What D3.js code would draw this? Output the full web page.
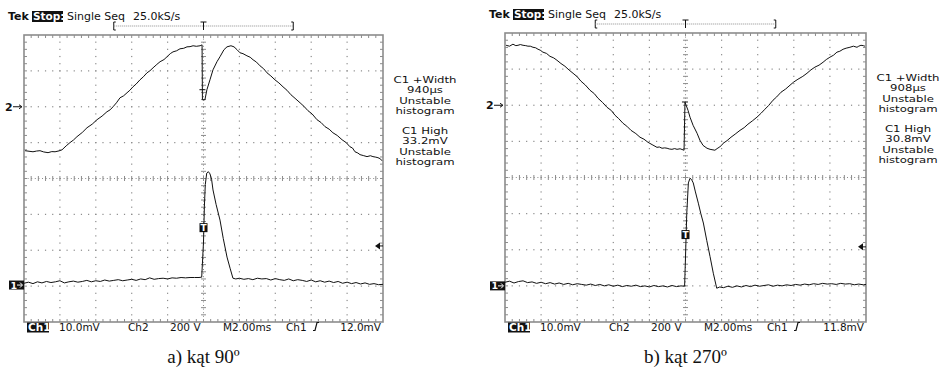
<!DOCTYPE html>
<html><head><meta charset="utf-8">
<script src="https://cdn.jsdelivr.net/npm/d3@7"></script>
<style>
body{margin:0;background:#fff}
svg{display:block}
text{font-family:"DejaVu Sans",sans-serif}
</style></head><body>
<svg id="c" width="942" height="379"></svg>
<script>
// ---------- data ----------
const timeDomain = [-10, 10];      // ms (2.00 ms/div)
const divDomain = [-4, 4];         // vertical divisions
const ch1PerDiv = 10;              // mV/div
const ch2PerDiv = 200;             // V/div
const triggerWindow = [-5, 5];     // ms, record bracket at top

const titleLabels = ["Tek", "Stop:", "Single Seq", "25.0kS/s"];
const bottomLabelsA = ["Ch1", "10.0mV", "Ch2", "200 V", "M2.00ms", "Ch1", "12.0mV"];
const bottomLabelsB = ["Ch1", "10.0mV", "Ch2", "200 V", "M2.00ms", "Ch1", "11.8mV"];
const sideLabelsA = [["C1 +Width", "940µs", "Unstable", "histogram"], ["C1 High", "33.2mV", "Unstable", "histogram"]];
const sideLabelsB = [["C1 +Width", "908µs", "Unstable", "histogram"], ["C1 High", "30.8mV", "Unstable", "histogram"]];
const captions = ["a) kąt 90º", "b) kąt 270º"];

// trigger level (mV) and trigger-marker level (mV) per screen
const trigLevel = [10.9, 10.8];
const trigMark = [16.0, 14.2];

// Ch1 [t ms, mV] — screen a (90°)
const ch1A = [[-10,0.5],[-9.75,0.8],[-9.5,0.4],[-9.25,0.9],[-9,0.6],[-8.75,1.0],[-8.5,0.7],[-8.25,0.9],[-8,1.2],[-7.75,0.6],[-7.5,0.9],[-7.25,1.1],[-7,0.8],[-6.75,1.0],[-6.5,1.3],[-6.25,0.9],[-6,1.2],[-5.75,1.0],[-5.5,1.4],[-5.25,1.1],[-5,1.3],[-4.75,1.5],[-4.5,1.2],[-4.25,1.4],[-4,1.6],[-3.75,1.3],[-3.5,1.7],[-3.25,1.5],[-3,2.0],[-2.75,1.6],[-2.5,1.8],[-2.25,1.9],[-2,1.7],[-1.75,2.0],[-1.5,1.9],[-1.25,2.1],[-1,2.0],[-0.75,2.1],[-0.5,2.1],[-0.25,2.1],[-0.1,2.2],
[0,12],[0.05,22],[0.1,28],[0.18,31.2],[0.27,31.6],[0.36,31.0],[0.45,29.5],[0.53,26.5],[0.7,22.5],[0.92,18.1],[1.1,13],[1.31,7.8],[1.48,4.7],[1.64,1.9],[1.8,1.7],
[2,1.9],[2.25,1.6],[2.5,1.8],[2.75,1.5],[3,1.9],[3.25,1.7],[3.5,1.8],[3.75,1.4],[4,1.8],[4.25,1.5],[4.5,1.3],[4.75,1.7],[5,1.2],[5.25,1.5],[5.5,1.3],[5.75,1.0],[6,1.4],[6.25,0.9],[6.5,1.2],[6.75,0.8],[7,1.1],[7.25,0.7],[7.5,1.0],[7.75,0.5],[8,0.8],[8.25,0.4],[8.5,0.7],[8.75,0.3],[9,0.6],[9.25,0.2],[9.5,0.4],[9.75,0.1],[10,0.2]];

// Ch2 [t ms, V] — screen a
const ch2A = [[-9.94,-245],[-9.72,-248],[-9.5,-251],[-9.3,-247],[-9.11,-245],[-8.9,-252],[-8.66,-256],[-8.45,-250],[-8.27,-251],[-8.05,-246],[-7.88,-240],[-7.65,-218],[-7.44,-200],[-7.25,-186],[-7.05,-167],[-6.75,-143],[-6.49,-117],[-6.2,-97],[-5.93,-72],[-5.65,-52],[-5.38,-28],[-5.2,-17],[-5.04,0],[-4.85,22],[-4.65,50],[-4.45,61],[-4.26,78],[-4.1,92],[-3.93,111],[-3.75,127],[-3.54,150],[-3.35,167],[-3.15,189],[-2.98,201],[-2.81,217],[-2.6,236],[-2.42,251],[-2.2,263],[-2.03,279],[-1.85,296],[-1.7,306],[-1.5,312],[-1.31,323],[-1.1,326],[-0.92,334],[-0.75,335],[-0.58,340],[-0.4,337],[-0.19,340],[-0.08,345],[-0.06,39],[0.08,39],[0.19,95],[0.36,150],[0.53,206],[0.75,251],[0.92,279],[1.14,318],[1.31,334],[1.53,340],[1.7,334],[1.87,318],[2.03,301],[2.2,296],[2.42,284],[2.6,276],[2.76,262],[2.95,249],[3.15,228],[3.35,212],[3.54,189],[3.75,172],[3.98,150],[4.2,133],[4.43,111],[4.65,92],[4.87,67],[5.1,47],[5.38,22],[5.6,2],[5.82,-22],[6.05,-40],[6.32,-72],[6.55,-88],[6.77,-111],[7,-125],[7.21,-145],[7.45,-160],[7.72,-184],[7.95,-200],[8.16,-223],[8.3,-230],[8.44,-251],[8.6,-258],[8.72,-267],[8.9,-272],[9.11,-278],[9.3,-273],[9.44,-278],[9.6,-281],[9.72,-284],[9.85,-290],[9.94,-301]];
const ch2CursorA = [[-0.06, 95]];

// Ch1 [t ms, mV] — screen b (270°)
const ch1B = [[-10,1.0],[-9.75,1.3],[-9.5,0.8],[-9.25,1.2],[-9,1.4],[-8.75,0.9],[-8.5,1.1],[-8.25,0.7],[-8,1.0],[-7.75,0.6],[-7.5,0.9],[-7.25,0.5],[-7,0.8],[-6.75,0.4],[-6.5,0.7],[-6.25,0.3],[-6,0.6],[-5.75,0.4],[-5.5,0.2],[-5.25,0.5],[-5,0.1],[-4.75,0.4],[-4.5,0.0],[-4.25,0.3],[-4,-0.1],[-3.75,0.2],[-3.5,-0.2],[-3.25,0.1],[-3,-0.1],[-2.75,0.2],[-2.5,-0.2],[-2.25,0.0],[-2,-0.3],[-1.75,0.1],[-1.5,-0.2],[-1.25,0.0],[-1,-0.3],[-0.75,0.1],[-0.5,-0.2],[-0.25,0.0],[-0.05,-0.1],
[0,8],[0.07,20],[0.16,28.5],[0.25,29.8],[0.34,29.4],[0.43,28.5],[0.55,26],[0.71,22.9],[0.85,20],[0.99,17.4],[1.18,12.5],[1.36,8.1],[1.54,3.5],[1.73,-0.65],
[1.9,-0.3],[2.1,-0.5],[2.35,-0.1],[2.6,-0.4],[2.85,0.0],[3.1,-0.3],[3.35,0.1],[3.6,-0.2],[3.85,0.2],[4.1,-0.1],[4.35,0.1],[4.6,0.3],[4.85,-0.1],[5.1,0.2],[5.35,0.0],[5.6,0.3],[5.85,0.1],[6.1,0.4],[6.35,0.2],[6.6,0.5],[6.85,0.3],[7.1,0.6],[7.35,0.4],[7.6,0.7],[7.85,0.5],[8.1,0.6],[8.35,0.4],[8.6,0.7],[8.85,0.5],[9.1,0.6],[9.35,0.3],[9.6,0.5],[9.85,0.3],[10,0.4]];

// Ch2 [t ms, V] — screen b
const ch2B = [[-9.94,332],[-9.75,327],[-9.56,338],[-9.4,330],[-9.28,332],[-9.15,336],[-9,332],[-8.85,330],[-8.73,327],[-8.6,327],[-8.45,321],[-8.3,318],[-8.17,310],[-8.05,305],[-7.9,294],[-7.7,287],[-7.51,271],[-7.3,262],[-7.12,249],[-6.9,231],[-6.68,216],[-6.45,195],[-6.23,177],[-6,158],[-5.79,133],[-5.55,112],[-5.29,83],[-5.05,64],[-4.85,39],[-4.6,16],[-4.35,-11],[-4.1,-30],[-3.91,-55],[-3.7,-74],[-3.46,-100],[-3.25,-116],[-3.02,-139],[-2.75,-157],[-2.52,-177],[-2.3,-188],[-2.08,-205],[-1.85,-218],[-1.58,-233],[-1.45,-231],[-1.3,-238],[-1.15,-236],[-1.02,-238],[-0.9,-242],[-0.75,-244],[-0.6,-240],[-0.47,-244],[-0.3,-241],[-0.08,-249],[-0.03,17],[0.14,-28],[0.25,-66],[0.42,-111],[0.64,-155],[0.8,-194],[0.97,-222],[1.19,-238],[1.36,-244],[1.63,-249],[1.75,-240],[1.86,-233],[2,-222],[2.08,-211],[2.3,-196],[2.52,-177],[2.75,-160],[3.02,-139],[3.25,-124],[3.46,-105],[3.7,-87],[3.96,-66],[4.2,-43],[4.4,-22],[4.6,-2],[4.85,28],[5.05,46],[5.29,72],[5.55,90],[5.79,111],[6,129],[6.23,144],[6.5,160],[6.73,177],[6.95,196],[7.17,211],[7.4,222],[7.62,238],[7.8,253],[8,266],[8.2,277],[8.39,294],[8.55,299],[8.73,310],[8.9,316],[9.11,321],[9.3,327],[9.5,321],[9.6,327],[9.72,332],[9.85,330],[9.94,327]];
const ch2CursorB = [[-0.03, 18]];

// ---------- layout ----------
const screens = [
  {x0:24, x1:383, y0:35, y1:322, ch1Off:-2.97, ch2Off:2, ch1:ch1A, ch2:ch2A, cur:ch2CursorA, bottom:bottomLabelsA, side:sideLabelsA, cap:captions[0], trig:trigLevel[0], tmark:trigMark[0]},
  {x0:505, x1:866, y0:33, y1:322, ch1Off:-3.0, ch2Off:2, ch1:ch1B, ch2:ch2B, cur:ch2CursorB, bottom:bottomLabelsB, side:sideLabelsB, cap:captions[1], trig:trigLevel[1], tmark:trigMark[1]}
];

const svg = d3.select("#c");
const grid = "#8c8c8c";
const ink = "#111";

screens.forEach(s => {
  const g = svg.append("g");
  const x = d3.scaleLinear().domain(timeDomain).range([s.x0, s.x1]);
  const y = d3.scaleLinear().domain(divDomain).range([s.y1, s.y0]);
  const y1 = v => y(v / ch1PerDiv + s.ch1Off);
  const y2 = v => y(v / ch2PerDiv + s.ch2Off);

  const xMinor = d3.range(0, 51).map(i => timeDomain[0] + i * 0.4);
  const yMinor = d3.range(0, 41).map(i => divDomain[0] + i * 0.2);
  const xMajor = [-8, -6, -4, -2, 2, 4, 6, 8];
  const yMajor = [-3, -2, -1, 1, 2, 3];

  // dotted grid lines
  const dots = [];
  xMajor.forEach(t => yMinor.slice(1, -1).forEach(v => dots.push([x(t), y(v)])));
  yMajor.forEach(v => xMinor.slice(1, -1).forEach(t => dots.push([x(t), y(v)])));
  g.selectAll(null).data(dots).enter().append("rect")
    .attr("x", d => d[0] - 0.6).attr("y", d => d[1] - 0.6)
    .attr("width", 1.2).attr("height", 1.2).attr("fill", grid);

  // centre lines with ticks + border ticks
  const ticks = [];
  xMinor.slice(1, -1).forEach(t => ticks.push([x(t), y(0) - 2.5, x(t), y(0) + 2.5]));
  yMinor.slice(1, -1).forEach(v => ticks.push([x(0) - 2.5, y(v), x(0) + 2.5, y(v)]));
  xMinor.slice(1, -1).forEach(t => { ticks.push([x(t), s.y0, x(t), s.y0 + 3]); ticks.push([x(t), s.y1, x(t), s.y1 - 3]); });
  yMinor.slice(1, -1).forEach(v => { ticks.push([s.x0, y(v), s.x0 + 3, y(v)]); ticks.push([s.x1, y(v), s.x1 - 3, y(v)]); });
  g.selectAll(null).data(ticks).enter().append("line")
    .attr("x1", d => d[0]).attr("y1", d => d[1]).attr("x2", d => d[2]).attr("y2", d => d[3])
    .attr("stroke", grid).attr("stroke-width", 1);
  g.append("line").attr("x1", s.x0).attr("x2", s.x1).attr("y1", y(0)).attr("y2", y(0))
    .attr("stroke", grid).attr("stroke-dasharray", "1,2.6");
  g.append("line").attr("x1", x(0)).attr("x2", x(0)).attr("y1", s.y0).attr("y2", s.y1)
    .attr("stroke", grid).attr("stroke-dasharray", "1,2.6");

  g.append("rect").attr("x", s.x0).attr("y", s.y0).attr("width", s.x1 - s.x0).attr("height", s.y1 - s.y0)
    .attr("fill", "none").attr("stroke", grid).attr("stroke-width", 1.6);

  // traces
  const l1 = d3.line().x(d => x(d[0])).y(d => y1(d[1]));
  const l2 = d3.line().x(d => x(d[0])).y(d => y2(d[1]));
  g.append("path").attr("d", l2(s.ch2)).attr("fill", "none").attr("stroke", ink).attr("stroke-width", 1);
  g.append("path").attr("d", l1(s.ch1)).attr("fill", "none").attr("stroke", ink).attr("stroke-width", 1);
  g.selectAll(null).data(s.cur).enter().append("line")
    .attr("x1", d => x(d[0]) - 3).attr("x2", d => x(d[0]) + 3)
    .attr("y1", d => y2(d[1])).attr("y2", d => y2(d[1])).attr("stroke", ink);

  // title
  const ty = s.y0 - 15;
  g.append("text").attr("x", s.x0 - 16).attr("y", ty).attr("font-size", 11).attr("font-weight", "bold").attr("fill", ink).text(titleLabels[0]);
  g.append("rect").attr("x", s.x0 + 8).attr("y", ty - 9).attr("width", 31).attr("height", 11).attr("fill", ink);
  g.append("text").attr("x", s.x0 + 9).attr("y", ty).attr("font-size", 10.5).attr("font-weight", "bold").attr("fill", "#fff").text(titleLabels[1]);
  g.append("text").attr("x", s.x0 + 43).attr("y", ty).attr("font-size", 11).attr("fill", ink).text(titleLabels[2]);
  g.append("text").attr("x", s.x0 + 109).attr("y", ty).attr("font-size", 11).attr("fill", ink).text(titleLabels[3]);

  // record / trigger position bracket
  const by = s.y0 - 9;
  const bl = x(triggerWindow[0]), br = x(triggerWindow[1]);
  g.append("path").attr("d", `M${bl + 2},${by - 4}H${bl}V${by + 4}H${bl + 2}M${br - 2},${by - 4}H${br}V${by + 4}H${br - 2}`)
    .attr("fill", "none").attr("stroke", ink);
  g.append("line").attr("x1", bl).attr("x2", br).attr("y1", by).attr("y2", by)
    .attr("stroke", grid).attr("stroke-dasharray", "1,1");
  g.append("path").attr("d", `M${x(0) - 3},${by - 4}H${x(0) + 3}M${x(0)},${by - 4}V${by + 4}`)
    .attr("fill", "none").attr("stroke", ink);

  // ground markers
  const g2y = y2(0);
  g.append("text").attr("x", s.x0 - 19).attr("y", g2y + 4).attr("font-size", 11).attr("font-weight", "bold").attr("fill", ink).text("2");
  g.append("path").attr("d", `M${s.x0 - 11},${g2y}H${s.x0 - 3}M${s.x0 - 5},${g2y - 2}L${s.x0 - 2},${g2y}L${s.x0 - 5},${g2y + 2}`)
    .attr("fill", "none").attr("stroke", ink);
  const g1y = y1(0);
  g.append("rect").attr("x", s.x0 - 15).attr("y", g1y - 4.5).attr("width", 15).attr("height", 9).attr("fill", ink);
  g.append("text").attr("x", s.x0 - 13.5).attr("y", g1y + 3.5).attr("font-size", 9.5).attr("font-weight", "bold").attr("fill", "#fff").text("1");
  g.append("path").attr("d", `M${s.x0 - 7},${g1y}H${s.x0 - 2}M${s.x0 - 4},${g1y - 2.5}L${s.x0 - 1.5},${g1y}L${s.x0 - 4},${g1y + 2.5}`)
    .attr("fill", "none").attr("stroke", "#fff");

  // trigger level arrow
  const tly = y1(s.trig);
  g.append("path").attr("d", `M${s.x1 - 8},${tly}L${s.x1 - 3},${tly - 3.5}V${tly + 3.5}Z`).attr("fill", ink);
  g.append("line").attr("x1", s.x1 - 4).attr("x2", s.x1).attr("y1", tly).attr("y2", tly).attr("stroke", ink);

  // trigger point marker
  const tmy = y1(s.tmark);
  g.append("rect").attr("x", x(0) - 4).attr("y", tmy - 4.5).attr("width", 8).attr("height", 9).attr("fill", ink);
  g.append("text").attr("x", x(0)).attr("y", tmy + 3.5).attr("text-anchor", "middle").attr("font-size", 9).attr("font-weight", "bold").attr("fill", "#fff").text("T");

  // bottom readout
  const ry = s.y1 + 8.5;
  const bx = [3, 35, 104, 146, 199, 262];
  g.append("rect").attr("x", s.x0 + 3).attr("y", s.y1 + 0.5).attr("width", 22).attr("height", 10).attr("fill", ink);
  g.append("text").attr("x", s.x0 + 4).attr("y", ry).attr("font-size", 10.5).attr("font-weight", "bold").attr("fill", "#fff").text(s.bottom[0]);
  s.bottom.slice(1, 6).forEach((t, i) => {
    g.append("text").attr("x", s.x0 + bx[i + 1]).attr("y", ry).attr("font-size", 10.5).attr("fill", ink).text(t);
  });
  const sx = s.x0 + 290;
  g.append("path").attr("d", `M${sx - 1},${ry}H${sx + 1}L${sx + 3},${ry - 8}H${sx + 5}`).attr("fill", "none").attr("stroke", ink).attr("stroke-width", 1.2);
  g.append("text").attr("x", s.x1 - 2).attr("y", ry).attr("text-anchor", "end").attr("font-size", 10.5).attr("fill", ink).text(s.bottom[6]);

  // side measurements: compact, horizontally widened block (tight instrument line pitch)
  s.side.forEach((block, b) => {
    const blk = g.append("g")
      .attr("transform", `translate(${s.x1 + 42},${s.y0 + (b === 0 ? 48 : 99)}) scale(1.3,1)`);
    block.forEach((line, i) => {
      blk.append("text").attr("x", 0).attr("y", i * 10.5)
        .attr("text-anchor", "middle").attr("font-size", 9).attr("fill", ink).text(line);
    });
  });

  // caption
  g.append("text").attr("x", x(0)).attr("y", 363).attr("text-anchor", "middle")
    .style("font-family", "'Liberation Serif', 'Times New Roman', serif").attr("font-size", 19).attr("fill", ink).text(s.cap);
});
</script>
</body></html>
